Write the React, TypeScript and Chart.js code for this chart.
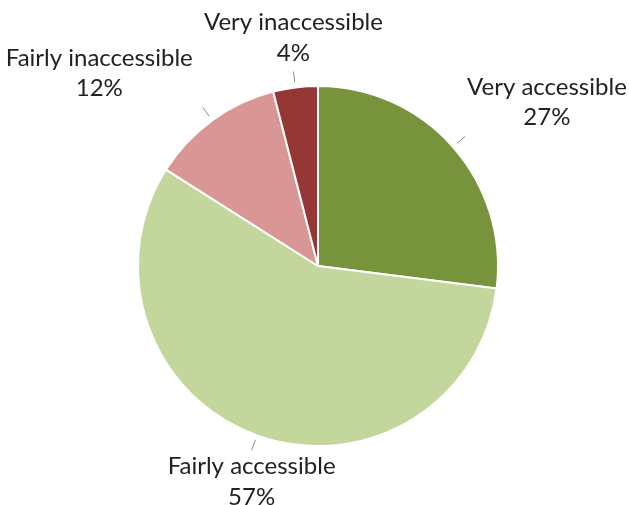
import React, { useEffect, useRef } from "react";
import { Chart, registerables } from "chart.js";

Chart.register(...registerables);

const categories = ["Very accessible", "Fairly accessible", "Fairly inaccessible", "Very inaccessible"];
const shares = [27, 57, 12, 4];
const sliceColors = ["#77933C", "#C3D69B", "#D99694", "#953735"];

const LABEL_FONT = "24px Lato";
const LINE_H = 30.5;

const outsideLabels = {
  id: "outsideLabels",
  afterDatasetsDraw(chart: any) {
    const ctx = chart.ctx;
    const meta = chart.getDatasetMeta(0);
    const values = chart.data.datasets[0].data;
    const labels = chart.data.labels;
    ctx.save();
    meta.data.forEach((arc: any, i: number) => {
      const { x, y, startAngle, endAngle, outerRadius } = arc.getProps(
        ["x", "y", "startAngle", "endAngle", "outerRadius"],
        true
      );
      const mid = (startAngle + endAngle) / 2;
      const cx = Math.cos(mid);
      const cy = Math.sin(mid);
      const r0 = outerRadius + 5;
      const r1 = outerRadius + 16;
      const x0 = x + r0 * cx;
      const y0 = y + r0 * cy;
      const x1 = x + r1 * cx;
      const y1 = y + r1 * cy;
      ctx.strokeStyle = "#8c8c8c";
      ctx.lineWidth = 1;
      ctx.beginPath();
      ctx.moveTo(x0, y0);
      ctx.lineTo(x1, y1);
      ctx.stroke();

      const lines = [String(labels[i]), values[i] + "%"];
      ctx.font = LABEL_FONT;
      const w = Math.max(...lines.map((l) => ctx.measureText(l).width));
      let tx: number;
      if (Math.abs(cx) < 0.4) tx = x1;
      else if (cx > 0) tx = x1 + 2 + w / 2;
      else tx = x1 - 10 - w / 2;
      let firstBaseline: number;
      if (cy < 0) firstBaseline = y1 - 11 - LINE_H;
      else firstBaseline = y1 + 24;
      ctx.fillStyle = "#222222";
      ctx.textAlign = "center";
      ctx.textBaseline = "alphabetic";
      lines.forEach((l, k) => ctx.fillText(l, tx, firstBaseline + k * LINE_H));
    });
    ctx.restore();
  },
};

export default function App() {
  const ref = useRef<HTMLCanvasElement | null>(null);
  useEffect(() => {
    if (!ref.current) return;
    const chart = new Chart(ref.current, {
      type: "pie",
      data: {
        labels: categories,
        datasets: [
          {
            data: shares,
            backgroundColor: sliceColors,
            borderColor: "#ffffff",
            borderWidth: 2,
          },
        ],
      },
      options: {
        responsive: false,
        animation: false,
        devicePixelRatio: 1,
        layout: { padding: { left: 137, top: 85, right: 130, bottom: 58 } },
        plugins: {
          legend: { display: false },
          tooltip: { enabled: false },
        },
      },
      plugins: [outsideLabels],
    });
    return () => chart.destroy();
  }, []);
  return (
    <div style={{ position: "absolute", left: 0, top: 0, width: 629, height: 505, background: "#fff" }}>
      <canvas ref={ref} width={629} height={505} style={{ width: 629, height: 505, display: "block" }} />
    </div>
  );
}
